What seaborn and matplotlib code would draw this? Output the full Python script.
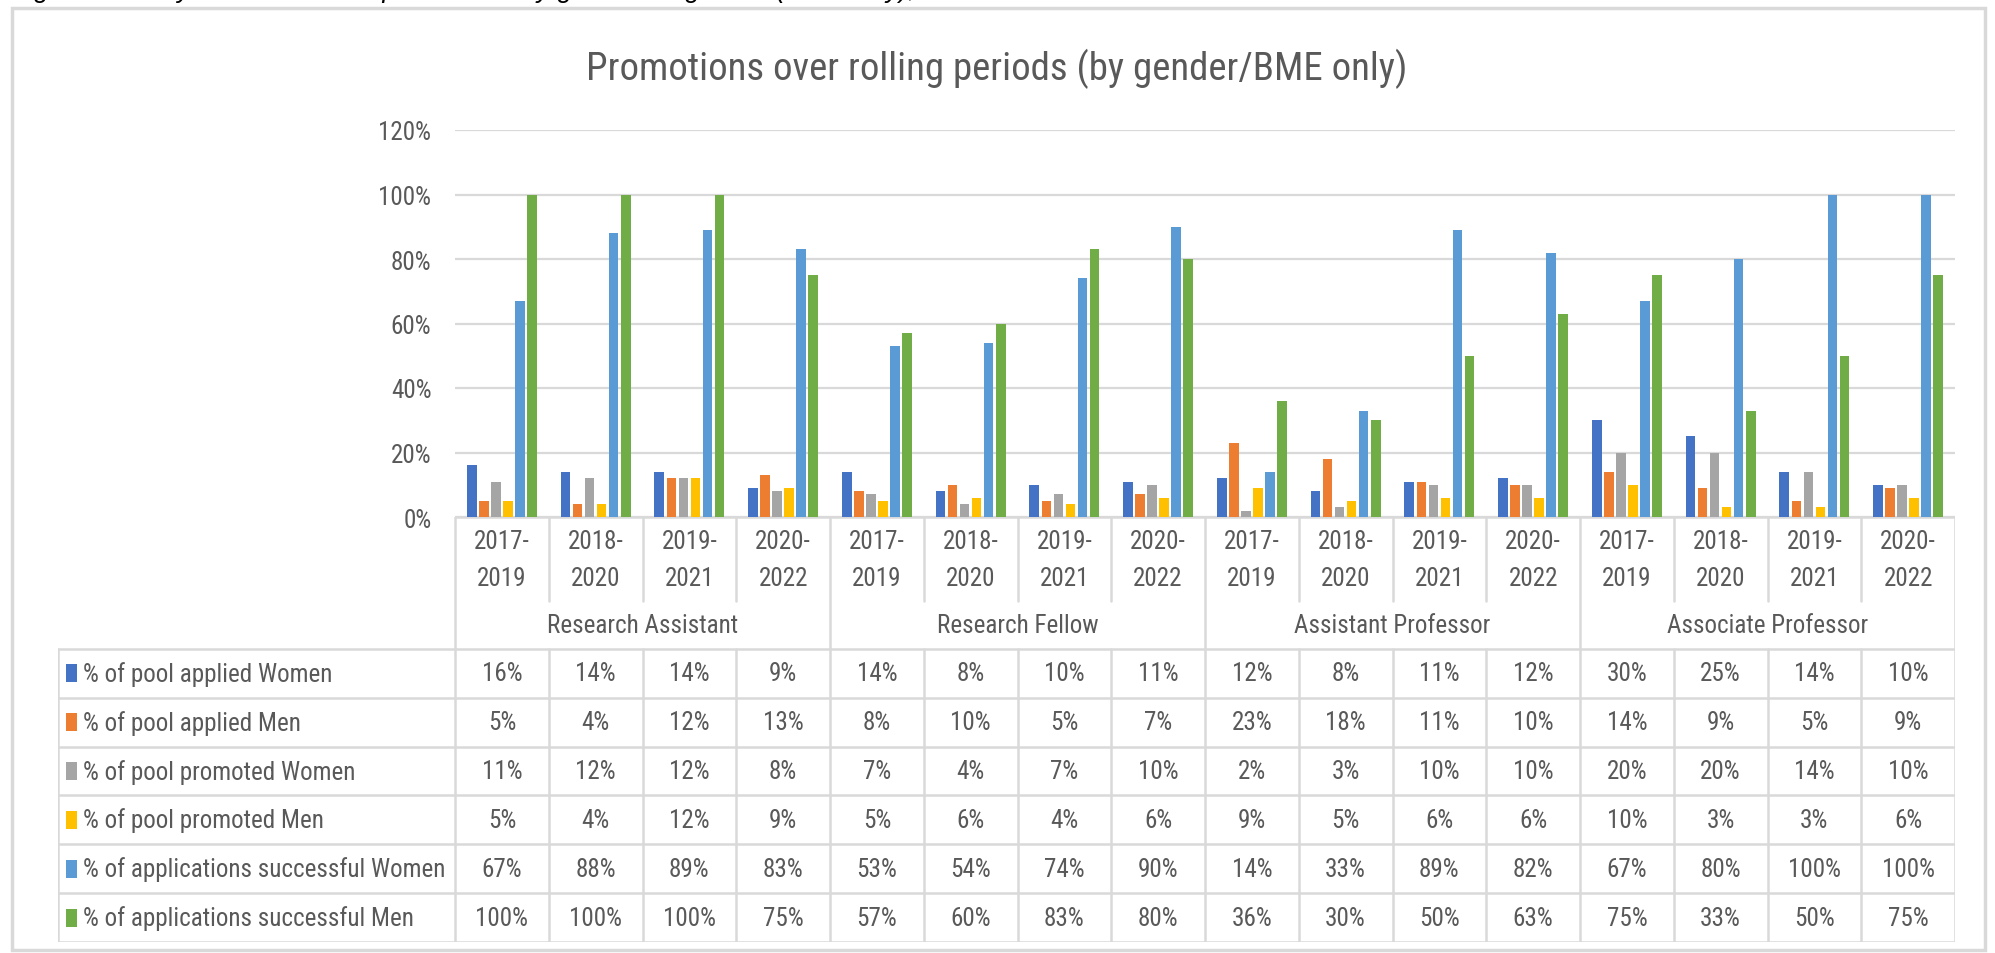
import matplotlib
matplotlib.use("Agg")
import matplotlib.pyplot as plt
import matplotlib.font_manager as fm
from matplotlib.patches import Rectangle
from matplotlib.ticker import FuncFormatter
import seaborn as sns
import pandas as pd

# ---------------- data ----------------
groups = ["Research Assistant", "Research Fellow", "Assistant Professor", "Associate Professor"]
periods = ["2017-\n2019", "2018-\n2020", "2019-\n2021", "2020-\n2022"]
series = [
    "% of pool applied Women",
    "% of pool applied Men",
    "% of pool promoted Women",
    "% of pool promoted Men",
    "% of applications successful Women",
    "% of applications successful Men",
]
pool_applied_women = [16, 14, 14, 9, 14, 8, 10, 11, 12, 8, 11, 12, 30, 25, 14, 10]
pool_applied_men = [5, 4, 12, 13, 8, 10, 5, 7, 23, 18, 11, 10, 14, 9, 5, 9]
pool_promoted_women = [11, 12, 12, 8, 7, 4, 7, 10, 2, 3, 10, 10, 20, 20, 14, 10]
pool_promoted_men = [5, 4, 12, 9, 5, 6, 4, 6, 9, 5, 6, 6, 10, 3, 3, 6]
apps_successful_women = [67, 88, 89, 83, 53, 54, 74, 90, 14, 33, 89, 82, 67, 80, 100, 100]
apps_successful_men = [100, 100, 100, 75, 57, 60, 83, 80, 36, 30, 50, 63, 75, 33, 50, 75]
values = [pool_applied_women, pool_applied_men, pool_promoted_women,
          pool_promoted_men, apps_successful_women, apps_successful_men]
colors = ["#4472C4", "#ED7D31", "#A5A5A5", "#FFC000", "#5B9BD5", "#70AD47"]
title = "Promotions over rolling periods (by gender/BME only)"
caption = "Figure 3: Analysis of academic promotions by grade and gender (BME only), 2017-2022"

# ---------------- style ----------------
sns.set_theme(style="white")

entries = fm.fontManager.ttflist
names = {f.name for f in entries}
FONT = "Liberation Sans"
STRETCH = "normal"
for cand in ["Roboto Condensed", "Liberation Sans Narrow", "Open Sans Condensed",
             "Noto Sans Condensed"]:
    if cand in names:
        FONT = cand
        break
else:
    for f in entries:
        if f.name == "DejaVu Sans" and "condensed" in str(f.stretch).lower():
            FONT = "DejaVu Sans"
            STRETCH = "condensed"
            break
plt.rcParams["font.family"] = [FONT, "DejaVu Sans"]
plt.rcParams["font.stretch"] = STRETCH

TXT = "#595959"
GRID = "#D9D9D9"

W, H = 1995, 954
fig = plt.figure(figsize=(W / 100, H / 100), dpi=100)
fig.patch.set_facecolor("white")
renderer = fig.canvas.get_renderer()


def fx(x):
    return x / W


def fy(y):
    return 1 - y / H


def fit_size(text, target_px, base=20, max_size=None, **kw):
    t = fig.text(0, 0, text, fontsize=base, **kw)
    w = t.get_window_extent(renderer).width
    t.remove()
    s = base * target_px / w
    if max_size is not None:
        s = min(s, max_size)
    return s


FS = fit_size("% of applications successful Women", 362, max_size=18.5)
FS_TITLE = fit_size(title, 827, max_size=28)
CAP_KW = dict(family=["Liberation Sans", "DejaVu Sans"], style="italic")
FS_CAP = fit_size(caption, 1035, max_size=20, **CAP_KW)

slots = [f"{g}|{p}" for g in groups for p in periods]
rows = []
for s, vals in zip(series, values):
    for slot, v in zip(slots, vals):
        rows.append({"slot": slot, "series": s, "value": v / 100})
df = pd.DataFrame(rows)

# ---------------- bar chart ----------------
PL, PR, PT, PB = 455, 1955, 131, 518
ax = fig.add_axes([fx(PL), fy(PB), (PR - PL) / W, (PB - PT) / H])
sns.barplot(data=df, x="slot", y="value", hue="series", order=slots,
            hue_order=series, palette=colors, saturation=1, width=0.77, gap=0.2,
            linewidth=0, ax=ax, legend=False, errorbar=None)
ax.set_xlim(-0.5, len(slots) - 0.5)
ax.set_ylim(0, 1.2)
ax.set_yticks([0, 0.2, 0.4, 0.6, 0.8, 1.0, 1.2])
ax.yaxis.set_major_formatter(FuncFormatter(lambda v, p: f"{v * 100:.0f}%"))
ax.tick_params(axis="y", length=0, pad=17, labelsize=FS, labelcolor=TXT)
ax.set_xticks([])
ax.set_xlabel("")
ax.set_ylabel("")
ax.yaxis.grid(True, color=GRID, lw=1.6)
ax.set_axisbelow(True)
for sp in ax.spines.values():
    sp.set_visible(False)

# ---------------- data table ----------------
TL, TB = 58, 943
unit = (PR - PL) / len(slots)
lab_w = (PL - TL) / unit
tab = fig.add_axes([fx(TL), fy(TB), (PR - TL) / W, (TB - PB) / H])
tab.set_xlim(-0.5 - lab_w, len(slots) - 0.5)
tab.set_ylim(TB, PB)
tab.axis("off")
x0 = -0.5 - lab_w
x1 = len(slots) - 0.5
lw = 1.8
row_top = 650
row_h = (TB - row_top) / len(series)

tab.plot([-0.5, x1], [PB, PB], color=GRID, lw=lw, solid_capstyle="butt")
for i in range(len(slots) + 1):
    xx = i - 0.5
    if i % 4 == 0:
        tab.plot([xx, xx], [PB, TB], color=GRID, lw=lw)
    else:
        tab.plot([xx, xx], [PB, 602], color=GRID, lw=lw)
        tab.plot([xx, xx], [row_top, TB], color=GRID, lw=lw)
tab.plot([x0, x0], [row_top, TB], color=GRID, lw=lw)
for r in range(len(series) + 1):
    yy = row_top + r * row_h
    tab.plot([x0, x1], [yy, yy], color=GRID, lw=lw)

# year labels (two lines)
for i, slot in enumerate(slots):
    top, bot = periods[i % 4].split("\n")
    tab.text(i, 542, top, ha="center", va="center", fontsize=FS, color=TXT)
    tab.text(i, 579, bot, ha="center", va="center", fontsize=FS, color=TXT)
# group labels
for gi, g in enumerate(groups):
    tab.text(gi * 4 + 1.5, 626, g, ha="center", va="center", fontsize=FS, color=TXT)

# rows
for r, (s, vals, c) in enumerate(zip(series, values, colors)):
    yc = row_top + r * row_h + row_h / 2
    tab.add_patch(Rectangle((x0 + 8 / unit, yc - 9), 11 / unit, 18,
                            facecolor=c, edgecolor="none"))
    tab.text(x0 + 25 / unit, yc, s, ha="left", va="center", fontsize=FS, color=TXT)
    for i, v in enumerate(vals):
        tab.text(i, yc, f"{v:.0f}%", ha="center", va="center", fontsize=FS, color=TXT)

# ---------------- title, caption, frame ----------------
fig.text(fx(997), fy(69), title, ha="center", va="center", fontsize=FS_TITLE, color=TXT)
fig.text(fx(12), fy(-3), caption, ha="left", va="baseline", fontsize=FS_CAP,
         color="black", **CAP_KW)
fig.patches.append(Rectangle((fx(12), fy(951)), fx(1985) - fx(12), fy(9) - fy(951),
                             transform=fig.transFigure, fill=False,
                             edgecolor=GRID, lw=2.5))

fig.savefig("out.png", dpi=100, facecolor="white")
